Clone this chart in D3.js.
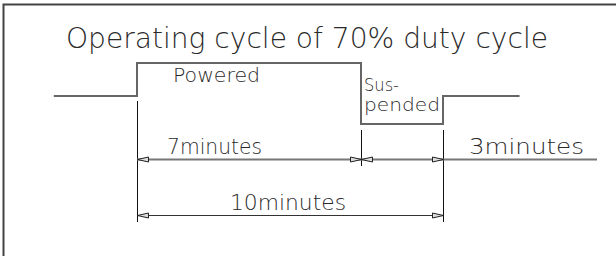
<!DOCTYPE html>
<html><head><meta charset="utf-8">
<script src="https://cdn.jsdelivr.net/npm/d3@7"></script>
<style>html,body{margin:0;padding:0;background:#fff;}svg{display:block;}</style>
</head><body>
<script>
// ---- data ----
const title = "Operating cycle of 70% duty cycle";
const phaseNames = ["idle", "powered", "suspended", "idle"];
const phaseStart = [-2.6, 0, 7, 10];      // minutes
const phaseEnd   = [0, 7, 10, 12.8];      // minutes
const phaseLabels = ["", "Powered", "Sus-\npended", ""];
const levels = ["powered", "idle", "suspended"];
const dimFrom = [0, 7, 0];
const dimTo   = [7, 10, 10];
const dimLabels = ["7minutes", "3minutes", "10minutes"];

const W = 616, H = 256;
const svg = d3.select("body").append("svg").attr("width", W).attr("height", H);

// piecewise time scale (the drawing is not to scale)
const x = d3.scaleLinear().domain([0, 7, 10]).range([137, 361, 443]);
const y = d3.scaleOrdinal().domain(levels).range([63, 96, 124]);

const FONT = "'DejaVu Sans', sans-serif";
const textCol = "#2a2a2a";

// frame (cropped box)
svg.append("path").attr("d", `M3.5,${H} V4.5 H${W}`)
  .attr("fill", "none").attr("stroke", "#444").attr("stroke-width", 2);

// title
svg.append("text").attr("x", 66).attr("y", 48)
  .attr("textLength", 482).attr("lengthAdjust", "spacingAndGlyphs")
  .style("font-family", FONT).style("font-weight", 200).style("font-size", "28px")
  .attr("fill", textCol).text(title);

// waveform as step line
const pts = [];
phaseNames.forEach((p, i) => { pts.push([phaseStart[i], p]); });
pts.push([phaseEnd[phaseEnd.length - 1], phaseNames[phaseNames.length - 1]]);
const line = d3.line().x(d => x(d[0])).y(d => y(d[1])).curve(d3.curveStepAfter);
svg.append("path").attr("d", line(pts)).attr("fill", "none")
  .attr("stroke", "#666").attr("stroke-width", 2);

// phase labels
const lab = svg.append("g").style("font-family", FONT).style("font-weight", 200).attr("fill", textCol);
lab.append("text").attr("x", x(phaseStart[1]) + 36).attr("y", 82)
  .attr("textLength", 87).attr("lengthAdjust", "spacingAndGlyphs")
  .style("font-size", "20px").text(phaseLabels[1]);
phaseLabels[2].split("\n").forEach((s, i) => {
  lab.append("text").attr("x", x(phaseStart[2]) + 3).attr("y", 91 + i * 20)
    .attr("textLength", i === 0 ? 35 : 76).attr("lengthAdjust", "spacingAndGlyphs")
    .style("font-size", "17px").text(s);
});

// extension lines
const ext = svg.append("g").attr("stroke", "#111").attr("stroke-width", 1);
ext.append("line").attr("x1", x(0) + 0.5).attr("x2", x(0) + 0.5).attr("y1", 101).attr("y2", 222);
ext.append("line").attr("x1", x(7) + 0.5).attr("x2", x(7) + 0.5).attr("y1", 130).attr("y2", 166);
ext.append("line").attr("x1", x(10) + 0.5).attr("x2", x(10) + 0.5).attr("y1", 130).attr("y2", 222);

// dimension lines
function arrow(g, xt, yy, dir) { // dir -1 : tip on left, +1 : tip on right
  const L = 11, h = 2.5;
  g.append("path")
    .attr("d", `M${xt},${yy} L${xt - dir * L},${yy - h} L${xt - dir * L},${yy + h} Z`)
    .attr("fill", "#ddd").attr("stroke", "#222").attr("stroke-width", 1);
}
const dimY = [159, 159, 215];
const dimG = svg.append("g");
// dimension line 1 (continues to the right)
dimG.append("line").attr("x1", x(0)).attr("x2", 597).attr("y1", dimY[0] + 0.5).attr("y2", dimY[0] + 0.5)
  .attr("stroke", "#777").attr("stroke-width", 2);
dimG.append("line").attr("x1", x(0)).attr("x2", x(10)).attr("y1", dimY[2] + 0.5).attr("y2", dimY[2] + 0.5)
  .attr("stroke", "#333").attr("stroke-width", 1);
dimFrom.forEach((f, i) => {
  arrow(dimG, x(f) + 0.5, dimY[i] + 0.5, -1);
  arrow(dimG, x(dimTo[i]) + 0.5, dimY[i] + 0.5, 1);
});

// dimension texts
const dt = svg.append("g").style("font-family", FONT).style("font-weight", 200).attr("fill", textCol)
  .style("font-size", "22px");
const dimTextX = [167, 469, 230];
const dimTextW = [95, 115, 116];
const dimTextY = [154, 154, 210];
dimLabels.forEach((s, i) => {
  dt.append("text").attr("x", dimTextX[i]).attr("y", dimTextY[i])
    .attr("textLength", dimTextW[i]).attr("lengthAdjust", "spacingAndGlyphs").text(s);
});
</script>
</body></html>
